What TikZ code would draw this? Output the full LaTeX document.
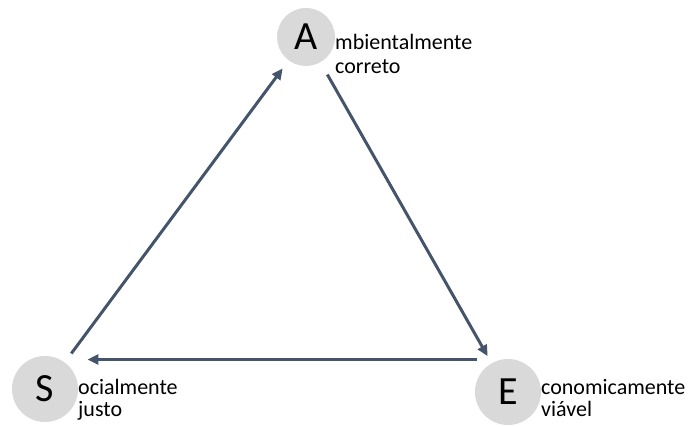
\documentclass[tikz,border=0pt]{standalone}
\usepackage{fontspec}
\setmainfont{Carlito}
\usepackage{xcolor}
\usetikzlibrary{arrows.meta}

\definecolor{setacor}{HTML}{44546A}
\definecolor{bolacor}{HTML}{D9D9D9}

\begin{document}
\begin{tikzpicture}[x=1pt,y=1pt,
		bola/.style={circle,fill=bolacor,inner sep=0pt,minimum size=64pt,font=\fontsize{40}{40}\selectfont},
		texto/.style={anchor=base west,align=left,inner sep=0pt,font=\fontsize{22}{22}\selectfont},
		seta/.style={draw=setacor,line width=3pt,-{Triangle[length=11pt,width=10pt]}}]
				
				\useasboundingbox (0,0) rectangle (691,427);
				
				% as tres bolas
				\node[bola,minimum size=58pt] (A) at (306,390) {A};
				\node[bola,minimum size=66pt] (S) at (45,38) {S};
				\node[bola,minimum size=66pt] (E) at (508,35) {E};
				
				% textos ao lado (base = ultima linha)
				\node[texto,font=\fontsize{22}{24}\selectfont] (tA) at (335,353) {mbientalmente\\correto};
				\node[texto] (tS) at (78,10) {ocialmente\\justo};
				\node[texto] (tE) at (541,10) {conomicamente\\viável};
				
				% setas do ciclo
				\draw[seta,shorten <=11pt,shorten >=10pt] (S) -- (A);
				\draw[seta,shorten <=14pt,shorten >=8pt] (A) -- (E);
				\draw[seta] ([shift={(-8,9)}]E.north west) -- ([shift={(19,6)}]S.north east);
				
			\end{tikzpicture}
\end{document}
